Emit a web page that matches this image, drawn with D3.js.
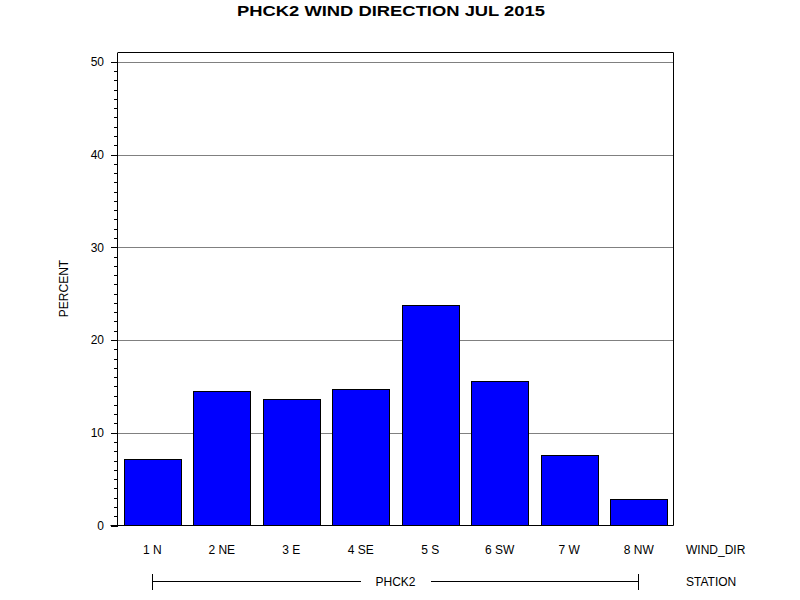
<!DOCTYPE html>
<html><head><meta charset="utf-8">
<script src="https://cdn.jsdelivr.net/npm/d3@7"></script>
<style>body{margin:0;background:#fff}text{font-family:"Liberation Sans",Arial,sans-serif}</style>
</head><body><svg id="c" width="800" height="600"></svg>
<script>
const categories = ["1 N","2 NE","3 E","4 SE","5 S","6 SW","7 W","8 NW"];
const values = [7.2, 14.45, 13.67, 14.75, 23.73, 15.53, 7.63, 2.88];
const yMajorTicks = [0,10,20,30,40,50];
const stationLabel = "PHCK2";
const title = "PHCK2 WIND DIRECTION JUL 2015";

const svg = d3.select("#c");
const L = 117.5, R = 673.5, T = 52.5, B = 525.5;
const x = d3.scaleBand().domain(categories).range([L, R]).paddingInner(0.187).paddingOuter(0.0935);
const y = d3.scaleLinear().domain([0, 50]).range([B, 61.8]);

svg.append("rect").attr("width",800).attr("height",600).attr("fill","#fff");

// gridlines
svg.selectAll("line.grid").data(yMajorTicks.filter(d=>d>0)).enter().append("line")
  .attr("x1",L).attr("x2",R).attr("y1",d=>Math.round(y(d))+0.5).attr("y2",d=>Math.round(y(d))+0.5)
  .attr("stroke","#808080").attr("stroke-width",1);

// frame top/right
svg.append("path").attr("d",`M${L},${T}H${R}V${B}`).attr("fill","none").attr("stroke","#000");

// bars
svg.selectAll("rect.bar").data(categories).enter().append("rect")
  .attr("x",d=>Math.round(x(d))+0.5).attr("width",Math.round(x.bandwidth()))
  .attr("y",(d,i)=>Math.round(y(values[i]))+0.5).attr("height",(d,i)=>B-(Math.round(y(values[i]))+0.5))
  .attr("fill","#0000ff").attr("stroke","#000").attr("stroke-width",1);

// y axis
const yAxis = d3.axisLeft(y).tickValues(d3.range(0,51,1)).tickSize(4).tickFormat("");
const ya = svg.append("g").attr("transform",`translate(${L},0)`).call(yAxis);
ya.selectAll(".tick").filter(d=>d%10===0).select("line").attr("x2",-7);
ya.select(".domain").attr("d",`M0,${T}V${B}`);
ya.selectAll("line,path").attr("stroke","#000").attr("shape-rendering","crispEdges");
svg.selectAll("text.yt").data(yMajorTicks).enter().append("text")
  .attr("x",104).attr("y",d=>y(d)+4.3).attr("text-anchor","end").attr("font-size",12).text(d=>d);

// x axis
svg.append("line").attr("x1",L-7).attr("x2",R).attr("y1",B).attr("y2",B).attr("stroke","#000");
svg.selectAll("text.xt").data(categories).enter().append("text")
  .attr("x",d=>x(d)+x.bandwidth()/2).attr("y",553.5).attr("text-anchor","middle").attr("font-size",12).text(d=>d);
svg.append("text").attr("x",686).attr("y",553.5).attr("font-size",12).text("WIND_DIR");

// station line
const sx1 = x(categories[0])+x.bandwidth()/2, sx2 = x(categories[categories.length-1])+x.bandwidth()/2;
const sm = (sx1+sx2)/2, sy = 581.5;
svg.append("path").attr("d",`M${sx1},${sy}H${sm-35}M${sm+35},${sy}H${sx2}M${sx1},573.5V589.5M${sx2},573.5V589.5`)
  .attr("stroke","#000").attr("fill","none").attr("shape-rendering","crispEdges");
svg.append("text").attr("x",sm).attr("y",585.5).attr("text-anchor","middle").attr("font-size",12).text(stationLabel);
svg.append("text").attr("x",686).attr("y",585.5).attr("font-size",12).text("STATION");

// y label
svg.append("text").attr("transform","translate(67.5,288.5) rotate(-90)").attr("text-anchor","middle").attr("font-size",12).text("PERCENT");

// title
svg.append("text").attr("x",391).attr("y",15.5).attr("text-anchor","middle").attr("font-size",15).attr("font-weight","bold")
  .attr("textLength",308).attr("lengthAdjust","spacingAndGlyphs").text(title);
</script></body></html>
